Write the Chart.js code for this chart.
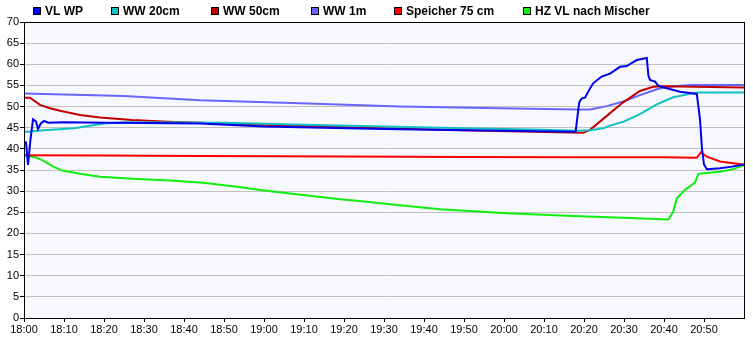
<!DOCTYPE html>
<html>
<head>
<meta charset="utf-8">
<script src="https://cdn.jsdelivr.net/npm/chart.js@4"></script>
<style>
  body { margin: 0; background: #fff; }
</style>
</head>
<body>
<canvas id="chart" width="753" height="338"></canvas>
<script>
// Minuten seit 18:00 und Temperaturen (°C)
const seriesNames = ['VL WP', 'WW 20cm', 'WW 50cm', 'WW 1m', 'Speicher 75 cm', 'HZ VL nach Mischer'];
const seriesColors = ['#0000f0', '#10c0c0', '#c00000', '#6666ff', '#ff0000', '#10ee10'];

const vlWpTime = [0, 0.5, 1, 1.6, 2.25, 3, 3.5, 4.2, 5, 6, 10, 20, 30, 44, 60, 75, 90, 110, 125, 137.9,
  138.8, 139.4, 140.25, 141.5, 142.3, 144.4, 146.5, 149, 150.7, 151.9, 153.2, 155.7, 156.1, 156.5,
  157.75, 158.6, 160, 164, 168.2, 169, 169.5, 170, 170.7, 174, 177, 180];
const vlWpVals = [41.7, 41.5, 36.2, 42, 47.0, 46.5, 44.7, 46.0, 46.6, 46.2, 46.3, 46.2, 46.1, 46.0, 45.3, 45.0, 44.7, 44.4, 44.2, 44.05,
  51.0, 51.9, 52.1, 54.3, 55.5, 57.1, 57.8, 59.4, 59.6, 60.3, 61.0, 61.5, 57.3, 56.3,
  55.9, 54.9, 54.5, 53.5, 53.0, 47, 40, 36.3, 35.2, 35.4, 35.8, 36.3];

const ww20Time = [0, 5, 12.5, 20, 25, 50, 70, 90, 110, 130, 138, 141.5, 144.8, 146.5, 149.8, 154, 158.2, 162.3, 166.5, 168.2, 180];
const ww20Vals = [44.0, 44.4, 44.85, 46.0, 46.3, 46.2, 45.7, 45.3, 44.9, 44.5, 44.3, 44.4, 44.85, 45.5, 46.4, 48.2, 50.5, 52.2, 53.0, 53.3, 53.3];

const ww50Time = [0, 1.5, 4, 6.5, 9, 14, 19, 27, 36, 50, 70, 90, 110, 130, 139.8, 141.5, 145.7, 149.8, 154, 157.3, 159.8, 180];
const ww50Vals = [52.1, 52.1, 50.4, 49.6, 49.0, 48.0, 47.4, 46.8, 46.4, 46.0, 45.4, 44.9, 44.4, 44.0, 43.8, 44.5, 47.8, 51.0, 53.7, 54.7, 54.8, 54.5];

const ww1mTime = [0, 25, 44, 69, 94, 119, 138.2, 141.5, 145.7, 149.8, 154, 158.2, 160.7, 166.5, 180];
const ww1mVals = [53.1, 52.5, 51.5, 50.8, 50.0, 49.6, 49.3, 49.3, 50.1, 51.2, 52.7, 54.1, 54.7, 55.1, 55.1];

const speicherTime = [0, 20, 44, 80, 110, 138, 160, 168.2, 169.25, 170.7, 174, 177.3, 180];
const speicherVals = [38.5, 38.4, 38.3, 38.2, 38.1, 38.0, 38.0, 37.9, 39.2, 38.15, 37.0, 36.6, 36.3];

const hzVlTime = [0, 3.2, 4.8, 7.3, 9.8, 14, 19, 28.2, 36.5, 44.8, 53.2, 61.5, 69.8, 79, 83.2, 91.5, 104, 120.7,
  137.3, 149.8, 161.1, 162.3, 163.2, 165.25, 167.75, 168.6, 169.4, 174, 177.3, 179, 180];
const hzVlVals = [38.5, 37.9, 37.2, 35.8, 34.8, 34.1, 33.4, 32.9, 32.5, 32.0, 31.05, 30.0, 29.1, 28.1, 27.7, 26.9, 25.7, 24.75,
  24.1, 23.7, 23.3, 25.1, 28.3, 30.3, 32.0, 34.1, 34.2, 34.6, 35.2, 35.8, 36.1];

const allTimes = [vlWpTime, ww20Time, ww50Time, ww1mTime, speicherTime, hzVlTime];
const allVals = [vlWpVals, ww20Vals, ww50Vals, ww1mVals, speicherVals, hzVlVals];

// x-Positionen der Legendeneinträge
const legendX = [33, 111, 211, 311, 394, 523];

const fmtTime = (m) => {
  const h = 18 + Math.floor(m / 60);
  const mm = m % 60;
  return h + ':' + (mm < 10 ? '0' : '') + mm;
};

const datasets = seriesNames.map((name, i) => ({
  label: name,
  data: allTimes[i].map((t, j) => ({ x: t, y: allVals[i][j] })),
  borderColor: seriesColors[i],
  backgroundColor: seriesColors[i],
  borderWidth: 2,
  pointRadius: 0,
  tension: 0,
  fill: false
}));

const FONT = "'Liberation Sans', Arial, sans-serif";

const framePlugin = {
  id: 'frame',
  beforeDraw(chart) {
    const { ctx, chartArea: a } = chart;
    ctx.save();
    ctx.fillStyle = '#fff';
    ctx.fillRect(0, 0, chart.width, chart.height);
    ctx.fillStyle = '#f7f8fe';
    ctx.fillRect(a.left, a.top, a.right - a.left, a.bottom - a.top);
    ctx.restore();
  },
  afterDraw(chart) {
    const { ctx, chartArea: a } = chart;
    ctx.save();
    ctx.strokeStyle = '#000';
    ctx.lineWidth = 1;
    ctx.strokeRect(Math.round(a.left) + 0.5, Math.round(a.top) + 0.5,
      Math.round(a.right - a.left), Math.round(a.bottom - a.top));

    // Legende
    ctx.font = 'bold 12px ' + FONT;
    ctx.textBaseline = 'middle';
    chart.data.datasets.forEach((ds, i) => {
      const x = legendX[i];
      ctx.fillStyle = ds.borderColor;
      ctx.fillRect(x, 7, 8, 8);
      ctx.strokeStyle = '#000';
      ctx.strokeRect(x + 0.5, 7.5, 7, 7);
      ctx.fillStyle = '#000';
      ctx.fillText(ds.label, x + 12, 12);
    });
    ctx.restore();
  }
};

new Chart(document.getElementById('chart'), {
  type: 'line',
  data: { datasets },
  options: {
    responsive: false,
    animation: false,
    layout: { padding: { top: 22, right: 9, left: 0, bottom: 0 } },
    plugins: { legend: { display: false }, tooltip: { enabled: false } },
    scales: {
      x: {
        type: 'linear',
        min: 0,
        max: 180,
        afterFit: (s) => { s.height = 20; },
        afterBuildTicks: (s) => { s.ticks = s.ticks.filter(t => t.value < 180); },
        ticks: {
          stepSize: 10,
          maxRotation: 0,
          autoSkip: false,
          padding: 1,
          color: '#000',
          font: { family: FONT, size: 11 },
          callback: (v) => fmtTime(v)
        },
        grid: { drawOnChartArea: false, drawTicks: true, tickLength: 4, tickColor: '#000' },
        border: { display: true, color: '#000' }
      },
      y: {
        min: 0,
        max: 70,
        afterFit: (s) => { s.width = 24; },
        ticks: {
          stepSize: 5,
          padding: 1,
          color: '#000',
          font: { family: FONT, size: 11 }
        },
        grid: { color: '#c0c0c0', drawTicks: true, tickLength: 4, tickColor: '#000' },
        border: { display: true, color: '#000' }
      }
    }
  },
  plugins: [framePlugin]
});
</script>
</body>
</html>
